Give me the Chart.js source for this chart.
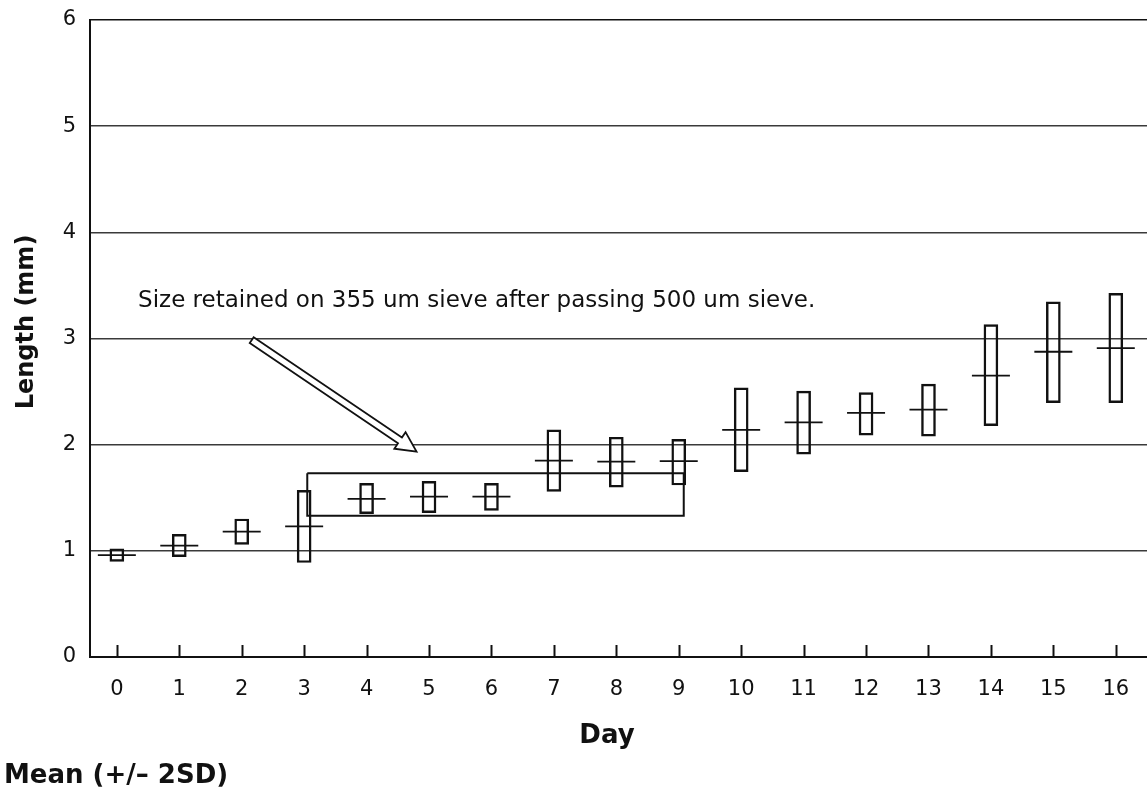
<!DOCTYPE html>
<html>
<head>
<meta charset="utf-8">
<script src="https://cdn.jsdelivr.net/npm/chart.js@4/dist/chart.umd.min.js"></script>
<style>
  html, body { margin: 0; padding: 0; background: #fff; overflow: hidden; }
  #wrap { width: 1147px; height: 792px; position: relative; }
  canvas { display: block; }
</style>
</head>
<body>
<div id="wrap"><canvas id="chart" width="1147" height="792"></canvas></div>
<script>
// Larval length by day: mean and mean +/- 2SD
const days       = [0, 1, 2, 3, 4, 5, 6, 7, 8, 9, 10, 11, 12, 13, 14, 15, 16];
const meanLength = [0.96, 1.05, 1.18, 1.23, 1.49, 1.51, 1.51, 1.85, 1.84, 1.845, 2.14, 2.21, 2.30, 2.33, 2.65, 2.875, 2.91];
const upper2SD   = [1.02, 1.155, 1.30, 1.57, 1.635, 1.655, 1.635, 2.14, 2.07, 2.05, 2.535, 2.505, 2.49, 2.57, 3.13, 3.345, 3.425];
const lower2SD   = [0.90, 0.945, 1.06, 0.89, 1.35, 1.36, 1.38, 1.56, 1.60, 1.62, 1.745, 1.91, 2.09, 2.08, 2.18, 2.395, 2.395];
const yTickValues = [0, 1, 2, 3, 4, 5, 6];

// Sieve-size window (days 3-9) outlined as a closed box, in data units
const sieveBoxX = [3.05, 9.08, 9.08, 3.05, 3.05];
const sieveBoxY = [1.73, 1.73, 1.33, 1.33, 1.73];

// Callout text and its arrow, in data units
const noteText  = 'Size retained on 355 um sieve after passing 500 um sieve.';
const noteAt    = [0.34, 3.30];
const arrowFrom = [2.16, 2.985];
const arrowTo   = [4.80, 1.934];

const INK = '#111';
const FONT = '"DejaVu Sans", sans-serif';

const extras = {
  id: 'extras',
  afterDatasetsDraw(chart) {
    const { ctx, scales: { x, y } } = chart;
    ctx.save();

    // inward tick marks on the day axis
    ctx.strokeStyle = INK;
    ctx.lineWidth = 2;
    const base = y.getPixelForValue(0);
    days.forEach(d => {
      const px = Math.round(x.getPixelForValue(d)) + 0.5;
      ctx.beginPath();
      ctx.moveTo(px, base);
      ctx.lineTo(px, base - 12);
      ctx.stroke();
    });

    // hollow arrow
    const x0 = x.getPixelForValue(arrowFrom[0]), y0 = y.getPixelForValue(arrowFrom[1]);
    const x1 = x.getPixelForValue(arrowTo[0]),   y1 = y.getPixelForValue(arrowTo[1]);
    const ang = Math.atan2(y1 - y0, x1 - x0);
    const len = Math.hypot(x1 - x0, y1 - y0);
    const shaftHalf = 3.5, headHalf = 10, headLen = 20;
    ctx.translate(x0, y0);
    ctx.rotate(ang);
    ctx.beginPath();
    ctx.moveTo(0, -shaftHalf);
    ctx.lineTo(len - headLen, -shaftHalf);
    ctx.lineTo(len - headLen, -headHalf);
    ctx.lineTo(len, 0);
    ctx.lineTo(len - headLen, headHalf);
    ctx.lineTo(len - headLen, shaftHalf);
    ctx.lineTo(0, shaftHalf);
    ctx.closePath();
    ctx.fillStyle = '#fff';
    ctx.fill();
    ctx.lineWidth = 1.8;
    ctx.lineJoin = 'miter';
    ctx.stroke();
    ctx.restore();

    // callout text
    ctx.save();
    ctx.fillStyle = INK;
    ctx.font = '23px ' + FONT;
    ctx.textBaseline = 'alphabetic';
    ctx.textAlign = 'left';
    ctx.fillText(noteText, x.getPixelForValue(noteAt[0]), y.getPixelForValue(noteAt[1]));
    ctx.restore();
  },
  afterDraw(chart) {
    const { ctx } = chart;
    ctx.save();
    ctx.fillStyle = INK;

    // y-axis title
    ctx.font = 'bold 24px ' + FONT;
    ctx.textAlign = 'center';
    ctx.textBaseline = 'middle';
    ctx.translate(27, 322);
    ctx.rotate(-Math.PI / 2);
    ctx.fillText('Length (mm)', 0, 0);
    ctx.setTransform(1, 0, 0, 1, 0, 0);

    // x-axis title
    ctx.font = 'bold 26px ' + FONT;
    ctx.textAlign = 'center';
    ctx.textBaseline = 'middle';
    ctx.fillText('Day', 607, 736);

    // legend note
    ctx.font = 'bold 26px ' + FONT;
    ctx.textAlign = 'left';
    ctx.textBaseline = 'alphabetic';
    ctx.fillText('Mean (+/\u2013 2SD)', 4, 783);
    ctx.restore();
  }
};

new Chart(document.getElementById('chart'), {
  type: 'bar',
  data: {
    datasets: [
      {
        type: 'scatter',
        label: 'Mean',
        data: days.map((d, i) => ({ x: d, y: meanLength[i] })),
        pointStyle: 'line',
        pointRadius: 19,
        pointHoverRadius: 19,
        borderColor: INK,
        borderWidth: 1.8,
        order: 1
      },
      {
        type: 'bar',
        label: 'Mean \u00b1 2SD',
        data: days.map((d, i) => ({ x: d, y: [lower2SD[i], upper2SD[i]] })),
        backgroundColor: 'rgba(255,255,255,0)',
        borderColor: INK,
        borderWidth: 1.8,
        borderSkipped: false,
        barThickness: 14,
        grouped: false,
        order: 2
      },
      {
        type: 'scatter',
        label: 'Sieve window',
        data: sieveBoxX.map((v, i) => ({ x: v, y: sieveBoxY[i] })),
        showLine: true,
        pointRadius: 0,
        borderColor: INK,
        borderWidth: 2,
        fill: false,
        order: 3
      }
    ]
  },
  options: {
    responsive: false,
    animation: false,
    devicePixelRatio: 1,
    events: [],
    layout: { autoPadding: false, padding: { top: 20, right: 0, left: 0, bottom: 0 } },
    plugins: { legend: { display: false }, tooltip: { enabled: false } },
    scales: {
      x: {
        type: 'linear',
        min: -0.43,
        max: 16.5,
        offset: false,
        grid: { display: false, drawTicks: false },
        border: { display: true, color: INK, width: 2 },
        afterBuildTicks: s => { s.ticks = days.map(v => ({ value: v })); },
        afterFit: s => { s.height = 135; s.paddingLeft = 0; s.paddingRight = 0; },
        ticks: {
          padding: 20,
          color: INK,
          maxRotation: 0,
          autoSkip: false,
          font: { family: FONT, size: 21 }
        }
      },
      y: {
        type: 'linear',
        min: 0,
        max: 6,
        grid: {
          drawTicks: false,
          lineWidth: 1.5,
          color: c => (c.tick && c.tick.value === 6 ? INK : (c.tick && c.tick.value === 0 ? 'rgba(0,0,0,0)' : '#3a3a3a'))
        },
        border: { display: true, color: INK, width: 2 },
        afterBuildTicks: s => { s.ticks = yTickValues.map(v => ({ value: v })); },
        afterFit: s => { s.width = 90; s.paddingTop = 0; s.paddingBottom = 0; },
        ticks: {
          padding: 14,
          color: INK,
          font: { family: FONT, size: 21 }
        }
      }
    }
  },
  plugins: [extras]
});
</script>
</body>
</html>
